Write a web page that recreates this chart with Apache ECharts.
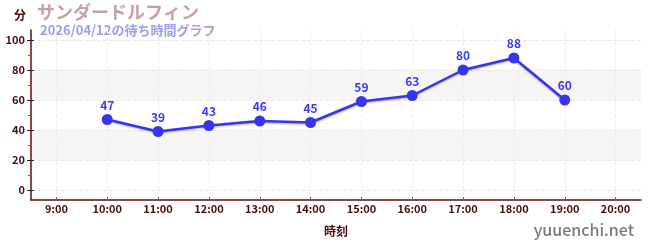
<!DOCTYPE html>
<html><head><meta charset="utf-8">
<script src="https://cdn.jsdelivr.net/npm/echarts@6/dist/echarts.min.js"></script>
<style>html,body{margin:0;padding:0;background:#fff}#c{width:650px;height:250px}</style>
</head><body><div id="c"></div>
<script>
const categories = ['9:00','10:00','11:00','12:00','13:00','14:00','15:00','16:00','17:00','18:00','19:00','20:00'];
const waitValues = [null,47,39,43,46,45,59,63,80,88,60,null];
const yTickValues = [0,20,40,60,80,100];
const yMinorValues = [10,30,50,70,90];
const xGridValues = categories.map((c, i) => i);
const titleText = 'サンダードルフィン';
const subtitleText = '2026/04/12の待ち時間グラフ';
const yUnit = '分';
const xName = '時刻';
const siteText = 'yuuenchi.net';

const FONT = '"Noto Sans CJK JP","Noto Sans",sans-serif';
const dark = '#4a0c0c';
const yMin = -20/3, yMax = 320/3;
const chart = echarts.init(document.getElementById('c'), null, {renderer:'canvas'});
chart.setOption({
  animation:false,
  textStyle:{fontFamily:FONT},
  graphic:[
    {type:'text', left:14, top:9, style:{text:yUnit, font:'bold 12px '+FONT, fill:dark}},
    {type:'text', left:37, top:3, style:{text:titleText, font:'bold 18px '+FONT, fill:'#c9a0a0'}},
    {type:'text', left:40, top:24, style:{text:subtitleText, font:'bold 13px '+FONT, fill:'#9d9df0'}},
    {type:'text', right:16, top:222, style:{text:siteText, font:'500 16px '+FONT, fill:'#7a7a7a'}}
  ],
  grid:{left:31, right:9, top:30, bottom:50},
  xAxis:[{
    type:'category', data:categories, boundaryGap:true,
    name:xName, nameLocation:'middle', nameGap:25,
    nameTextStyle:{color:dark, fontWeight:'bold', fontSize:12, fontFamily:FONT},
    axisLine:{onZero:false, lineStyle:{color:'#6b0a0a', width:1.5}},
    axisTick:{alignWithLabel:true, length:3, lineStyle:{color:'#666'}},
    axisLabel:{color:dark, fontWeight:'bold', fontSize:11, margin:3, fontFamily:FONT},
    splitLine:{show:false}
  },{
    type:'value', min:-0.5, max:categories.length - 0.5, position:'bottom',
    axisLine:{show:false, onZero:false},
    axisTick:{show:true, inside:true, length:3, lineStyle:{color:'#666'}, customValues:xGridValues},
    axisLabel:{show:false, customValues:xGridValues},
    splitLine:{show:true, lineStyle:{color:'#eeeeee', type:'dashed'}}
  }],
  yAxis:[{
    type:'value', min:yMin, max:yMax,
    axisLine:{show:true, onZero:false, lineStyle:{color:'#6b0a0a', width:1.5}},
    axisTick:{show:true, length:4, lineStyle:{color:'#222'}, customValues:yTickValues},
    axisLabel:{color:dark, fontWeight:'bold', fontSize:11, margin:6, customValues:yTickValues, fontFamily:FONT},
    splitLine:{show:true, lineStyle:{color:'#e8e8e8', type:'dashed'}},
    splitArea:{show:true, areaStyle:{color:['rgba(0,0,0,0)','#f6f6f6']}}
  },{
    type:'value', min:yMin, max:yMax, position:'left',
    axisLine:{show:false, onZero:false},
    axisTick:{show:true, length:3, lineStyle:{color:'#e03030'}, customValues:yMinorValues},
    axisLabel:{show:false, customValues:yMinorValues},
    splitLine:{show:false}
  },{
    type:'value', min:yMin, max:yMax, position:'left',
    axisLine:{show:false, onZero:false},
    axisTick:{show:true, inside:true, length:3, lineStyle:{color:'#222'}, customValues:yTickValues},
    axisLabel:{show:false, customValues:yTickValues},
    splitLine:{show:false}
  }],
  series:[{
    type:'line', data:waitValues, xAxisIndex:0, yAxisIndex:0,
    symbol:'circle', symbolSize:11,
    lineStyle:{color:'#3535ee', width:2.5, shadowColor:'rgba(0,0,60,0.3)', shadowBlur:2, shadowOffsetY:1},
    itemStyle:{color:'#3535ee'},
    label:{show:true, position:'top', distance:3, color:'#3b3bee', fontWeight:'bold', fontSize:12, fontFamily:FONT}
  }]
});
</script></body></html>
